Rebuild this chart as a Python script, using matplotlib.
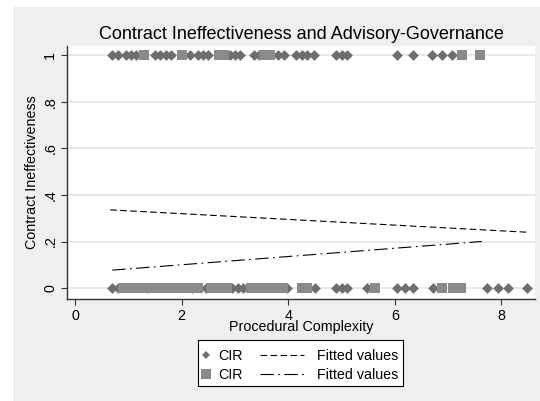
import numpy as np
import matplotlib
matplotlib.use("Agg")
import matplotlib.pyplot as plt
from matplotlib.patches import Rectangle
from matplotlib.lines import Line2D

plt.rcParams['font.family'] = ['Liberation Sans', 'DejaVu Sans']

# CIR, diamond series (y = 1 and y = 0)
dia_x1 = [0.7, 0.8, 0.95, 1.05, 1.15, 1.5, 1.6, 1.7, 1.8, 2.15, 2.3, 2.4, 2.5,
          2.9, 3.0, 3.1, 3.35, 3.45, 3.8, 3.92, 4.15, 4.25, 4.35, 4.48,
          4.9, 5.0, 5.1, 6.04, 6.34, 6.7, 6.88, 7.07]
dia_x0 = [0.7, 0.8, 1.35, 2.2, 2.45, 2.95, 3.05, 3.15, 3.98, 4.5, 4.9, 5.0, 5.1,
          5.48, 6.05, 6.2, 6.35, 6.72, 7.73, 7.94, 8.12, 8.48]
# CIR, square series
sq_x1 = [1.3, 2.0, 2.7, 2.8, 3.55, 3.65, 7.26, 7.6]
sq_x0 = [0.9, 1.0, 1.1, 1.2, 1.3, 1.45, 1.55, 1.65, 1.75, 1.85, 1.95, 2.05, 2.15,
         2.3, 2.55, 2.65, 2.75, 2.85, 3.3, 3.4, 3.5, 3.6, 3.7, 3.8, 3.9,
         4.25, 4.35, 5.63, 6.88, 7.1, 7.25]

# fitted values (endpoints of the linear fits)
fit1_x = [0.66, 8.48]
fit1_y = [0.336, 0.240]
fit2_x = [0.70, 7.63]
fit2_y = [0.077, 0.200]

W, H = 540, 401
fs = 10.3
fig = plt.figure(figsize=(5.4, 4.01), dpi=100, facecolor='white')
fig.patches.append(Rectangle((13 / W, 0), 1, (H - 7) / H,
                             transform=fig.transFigure, facecolor='#efefef',
                             edgecolor='none', zorder=-10))

ax = fig.add_axes([67 / W, 102 / H, 468 / W, 253 / H])
ax.set_facecolor('white')

dcol = '#6e6e6e'
scol = '#8a8a8a'
dash1 = (0, (6, 3))
dash2 = (0, (12, 4, 1.5, 4))
ax.plot(fit1_x, fit1_y, color='black', lw=0.8, ls=dash1, zorder=2)
ax.plot(fit2_x, fit2_y, color='black', lw=0.8, ls=dash2, zorder=2)

ax.scatter(dia_x1, np.ones(len(dia_x1)), marker='D', s=30, color=dcol, lw=0, zorder=3)
ax.scatter(dia_x0, np.zeros(len(dia_x0)), marker='D', s=30, color=dcol, lw=0, zorder=3)
ax.scatter(sq_x1, np.ones(len(sq_x1)), marker='s', s=58, color=scol, lw=0, zorder=3)
ax.scatter(sq_x0, np.zeros(len(sq_x0)), marker='s', s=58, color=scol, lw=0, zorder=3)

ax.set_xlim(-0.15, 8.63)
ax.set_ylim(-0.047, 1.04)
ax.set_xticks([0, 2, 4, 6, 8])
ax.set_yticks([0, 0.2, 0.4, 0.6, 0.8, 1])
ax.set_yticklabels(['0', '.2', '.4', '.6', '.8', '1'], rotation=90, va='center')
ax.grid(axis='y', color='#e6e6e6', lw=1.3)
ax.set_axisbelow(True)
for s in ['top', 'right']:
    ax.spines[s].set_visible(False)
for s in ['left', 'bottom']:
    ax.spines[s].set_color('#333333')
    ax.spines[s].set_linewidth(1.0)
ax.tick_params(direction='out', length=4, width=0.8, color='#333333',
               labelsize=fs, pad=3)

ax.set_xlabel('Procedural Complexity', fontsize=fs, labelpad=-2)
ax.set_ylabel('Contract Ineffectiveness', fontsize=fs, labelpad=3)
ax.set_title('Contract Ineffectiveness and Advisory-Governance', fontsize=13, pad=5)

# legend: box, marker column and line column
fig.patches.append(Rectangle((198 / W, (H - 386) / H), 205 / W, 46 / H,
                             transform=fig.transFigure, facecolor='white',
                             edgecolor='black', lw=0.8, zorder=1))
mk_handles = [
    Line2D([], [], marker='D', ls='none', color=dcol, markersize=4.5, mew=0),
    Line2D([], [], marker='s', ls='none', color=scol, markersize=6.5, mew=0),
]
ln_handles = [
    Line2D([], [], color='black', lw=0.8, ls=dash1),
    Line2D([], [], color='black', lw=0.8, ls=dash2),
]
leg1 = fig.legend(mk_handles, ['CIR', 'CIR'], loc='center left',
                  bbox_to_anchor=(200 / W, (H - 365.5) / H), fontsize=fs,
                  frameon=False, handlelength=0.9, handletextpad=0.35,
                  borderpad=0, borderaxespad=0, labelspacing=0.38)
leg2 = fig.legend(ln_handles, ['Fitted values', 'Fitted values'], loc='center left',
                  bbox_to_anchor=(260 / W, (H - 365.5) / H), fontsize=fs,
                  frameon=False, handlelength=3.1, handletextpad=0.85,
                  borderpad=0, borderaxespad=0, labelspacing=0.38)
leg1.set_zorder(2)
leg2.set_zorder(2)

fig.savefig('out.png', dpi=100, facecolor=fig.get_facecolor())
